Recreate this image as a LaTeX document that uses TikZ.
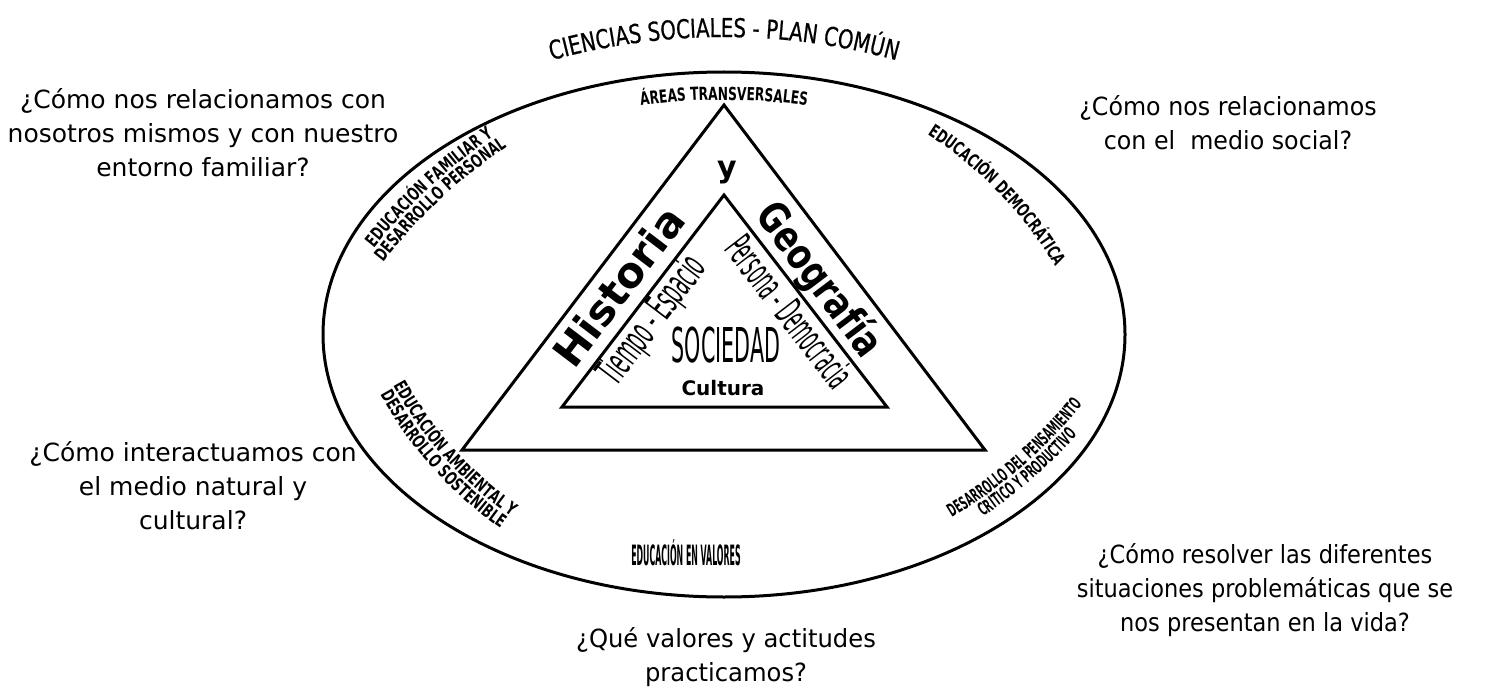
\documentclass[tikz,border=0pt]{standalone}
\usepackage{fontspec}
\setmainfont{DejaVu Sans}
\newfontfamily\qfont{DejaVu Sans}
\newfontfamily\labAfont{DejaVu Sans}[FakeStretch=0.68]
\newfontfamily\labBfont{DejaVu Sans}[FakeStretch=0.52]
\newfontfamily\titfont{DejaVu Sans}[FakeStretch=0.76, FakeBold=0.6]
\usetikzlibrary{decorations.text,calc}
\newcommand\labA{\labAfont\bfseries\fontsize{18}{18}\selectfont}
\newcommand\labB{\labBfont\bfseries\fontsize{18}{18}\selectfont}
\newcommand\titf{\titfont\fontsize{26}{26}\selectfont}
\begin{document}
\begin{tikzpicture}[x=1pt,y=1pt,
  question/.style={font=\qfont\fontsize{25}{34}\selectfont, align=center, inner sep=0pt},
  bigside/.style={font=\bfseries\fontsize{42}{42}\selectfont, inner sep=0pt, text depth=0pt},
  narrowside/.style={font=\fontsize{40}{40}\selectfont, inner sep=0pt, text depth=0pt},
  frame/.style={line width=3pt, line join=miter},
  curvelabel/.style={decorate, decoration={text along path, text align=center, text={#1}}}]
\useasboundingbox (0,0) rectangle (1494,-698);
\coordinate (E) at (724,-334.5);
\draw[frame] (E) ellipse[x radius=401, y radius=262.5];
% triangles
\coordinate (A1) at (724,-105);
\coordinate (B1) at (462,-450);
\coordinate (C1) at (985,-450);
\coordinate (A2) at (724,-195);
\coordinate (B2) at (562,-407);
\coordinate (C2) at (887,-407);
\draw[frame] (A1) -- (B1) -- (C1) -- cycle;
\draw[frame] (A2) -- (B2) -- (C2) -- cycle;
% centres of the arched labels
\coordinate (Ot) at (724,-687);
\coordinate (Oa) at (724,-688);
\coordinate (Oul) at (811.5,-597.5);
\coordinate (Our) at (711.3,-471.2);
\coordinate (Oll) at (727,-203.7);
\coordinate (Olr) at (694,-89.5);
% title and curved labels
\path[curvelabel={|\titf|CIENCIAS SOCIALES - PLAN COMÚN}] ($(Ot)+(118:650)$) arc[start angle=118, end angle=62, radius=650];
\path[curvelabel={|\labA|ÁREAS TRANSVERSALES}] ($(Oa)+(105:588)$) arc[start angle=105, end angle=75, radius=588];
\path[curvelabel={|\labA|EDUCACIÓN FAMILIAR Y}] ($(Oul)+(153:560)$) arc[start angle=153, end angle=113, radius=560];
\path[curvelabel={|\labA|DESARROLLO PERSONAL}] ($(Oul)+(153:544)$) arc[start angle=153, end angle=113, radius=544];
\path[curvelabel={|\labA|EDUCACIÓN DEMOCRÁTICA}] ($(Our)+(70:400)$) arc[start angle=70, end angle=18, radius=400];
\path[curvelabel={|\labA|EDUCACIÓN AMBIENTAL Y}] ($(Oll)+(202:380)$) arc[start angle=202, end angle=242, radius=380];
\path[curvelabel={|\labA|DESARROLLO SOSTENIBLE}] ($(Oll)+(202:396)$) arc[start angle=202, end angle=242, radius=396];
\path[curvelabel={|\labB|DESARROLLO DEL PENSAMIENTO}] ($(Olr)+(-69:500)$) arc[start angle=-69, end angle=-29, radius=500];
\path[curvelabel={|\labB|CRÍTICO Y PRODUCTIVO}] ($(Olr)+(-69:516)$) arc[start angle=-69, end angle=-29, radius=516];
\node[font=\bfseries\fontsize{28}{28}\selectfont, xscale=0.28, inner sep=0pt] (valores) at (686,-553) {EDUCACIÓN EN VALORES};
% inner texts
\node[font=\bfseries\fontsize{30}{30}\selectfont, anchor=base, inner sep=0pt] (y) at (727,-177) {y};
\node[bigside, rotate=52.8] (historia) at (618,-286) {Historia};
\node[bigside, rotate=-52.9, xscale=0.78] (geografia) at (822,-278) {Geografía};
\node[narrowside, rotate=52.8, xscale=0.44] (tiempo) at (650,-318.5) {Tiempo - Espacio};
\node[narrowside, rotate=-52.4, xscale=0.41] (persona) at (790.8,-311.5) {Persona - Democracia};
\node[font=\fontsize{48}{48}\selectfont, xscale=0.43, inner sep=0pt] (sociedad) at (726,-345) {SOCIEDAD};
\node[font=\bfseries\fontsize{20}{20}\selectfont, inner sep=0pt] (cultura) at (723,-388) {Cultura};
% questions
\node[question] (q1) at (203,-133) {¿Cómo nos relacionamos con\\nosotros mismos y con nuestro\\entorno familiar?};
\node[question, xscale=0.95] (q2) at (1228,-123) {¿Cómo nos relacionamos\\con el \ medio social?};
\node[question] (q3) at (193,-486) {¿Cómo interactuamos con\\el medio natural y\\cultural?};
\node[question, xscale=0.9] (q4) at (1265,-590) {¿Cómo resolver las diferentes\\situaciones problemáticas que se\\nos presentan en la vida?};
\node[question, xscale=0.97] (q5) at (726,-657) {¿Qué valores y actitudes\\practicamos?};
\end{tikzpicture}
\end{document}
